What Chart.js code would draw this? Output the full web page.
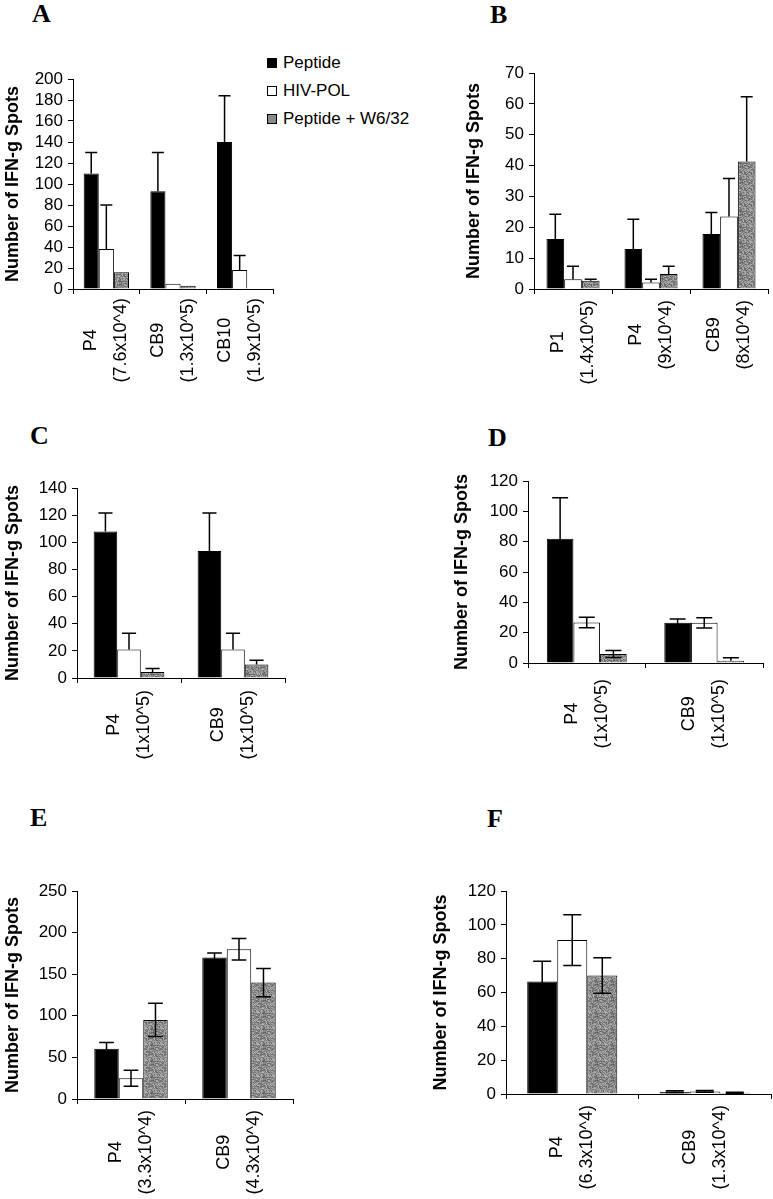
<!DOCTYPE html>
<html>
<head>
<meta charset="utf-8">
<script src="https://cdn.jsdelivr.net/npm/chart.js@4.4.1/dist/chart.umd.min.js"></script>
<style>
  html, body { margin: 0; padding: 0; background: #fff; }
  body { width: 773px; height: 1199px; position: relative; overflow: hidden;
         font-family: Arial, "Liberation Sans", sans-serif; color: #000; }
  canvas { position: absolute; }
  .tag { position: absolute; font: bold 26px "Liberation Serif", "Times New Roman", serif; line-height: 26px; }
  #legend { position: absolute; left: 267px; top: 49px; font-size: 17px; }
  #legend div { height: 28px; display: flex; align-items: center; white-space: nowrap; }
  #legend .sw { width: 10px; height: 10px; box-sizing: border-box; border: 1px solid #000; margin-right: 6px; }
</style>
</head>
<body>
<div class="tag" style="left:32px;top:1px">A</div>
<div class="tag" style="left:490px;top:2px">B</div>
<div class="tag" style="left:30px;top:423px">C</div>
<div class="tag" style="left:488px;top:425px">D</div>
<div class="tag" style="left:30px;top:805px">E</div>
<div class="tag" style="left:487px;top:806px">F</div>
<div id="legend"></div>

<canvas id="chartA"></canvas>
<canvas id="chartB"></canvas>
<canvas id="chartC"></canvas>
<canvas id="chartD"></canvas>
<canvas id="chartE"></canvas>
<canvas id="chartF"></canvas>

<script>
// series names
const seriesNames = ['Peptide', 'HIV-POL', 'Peptide + W6/32'];
const yTitle = 'Number of IFN-g Spots';

// panel A
const catsA = [['P4', '(7.6x10^4)'], ['CB9', '(1.3x10^5)'], ['CB10', '(1.9x10^5)']];
const peptideA = [110, 93, 140];
const hivA = [38, 5, 18];
const w6A = [16, 3, 0];
const peptideErrA = [20, 37, 44];
const hivErrA = [42, 0, 14];
const w6ErrA = [0, 0, 0];

// panel B
const catsB = [['P1', '(1.4x10^5)'], ['P4', '(9x10^4)'], ['CB9', '(8x10^4)']];
const peptideB = [16.2, 13, 17.8];
const hivB = [3.2, 2.1, 23.5];
const w6B = [2.7, 4.9, 41.3];
const peptideErrB = [8, 9.6, 7];
const hivErrB = [4.2, 1.1, 12.3];
const w6ErrB = [0.5, 2.5, 21];

// panel C
const catsC = [['P4', '(1x10^5)'], ['CB9', '(1x10^5)']];
const peptideC = [108, 93.5];
const hivC = [21, 21];
const w6C = [4.5, 10];
const peptideErrC = [13.5, 28];
const hivErrC = [12, 12];
const w6ErrC = [2.5, 3];

// panel D
const catsD = [['P4', '(1x10^5)'], ['CB9', '(1x10^5)']];
const peptideD = [82, 26.5];
const hivD = [26.7, 26.5];
const w6D = [6, 1.5];
const peptideErrD = [27, 2.5];
const hivErrD = [3.4, 3.4];
const w6ErrD = [2.3, 2];

// panel E
const catsE = [['P4', '(3.3x10^4)'], ['CB9', '(4.3x10^4)']];
const peptideE = [60.5, 170];
const hivE = [25, 180];
const w6E = [95, 140];
const peptideErrE = [7.5, 5.5];
const hivErrE = [9.6, 13];
const w6ErrE = [20, 17];

// panel F
const catsF = [['P4', '(6.3x10^4)'], ['CB9', '(1.3x10^4)']];
const peptideF = [66.5, 1.4];
const hivF = [91, 1.5];
const w6F = [70, 0.8];
const peptideErrF = [12, 0.5];
const hivErrF = [15, 0.5];
const w6ErrF = [10.5, 0.3];

// y axis ranges
const yMaxA = 200, yStepA = 20;
const yMaxB = 70, yStepB = 10;
const yMaxC = 140, yStepC = 20;
const yMaxD = 120, yStepD = 20;
const yMaxE = 250, yStepE = 50;
const yMaxF = 120, yStepF = 20;

const fontFamily = 'Arial, "Liberation Sans", sans-serif';
Chart.defaults.font.family = fontFamily;
Chart.defaults.color = '#000';

// grey speckle tile for the W6/32 bars (fixed hash, texture only)
const tile = document.createElement('canvas');
tile.width = 16; tile.height = 16;
(function () {
  const g = tile.getContext('2d');
  for (let py = 0; py < 16; py++) {
    for (let px = 0; px < 16; px++) {
      let h = (px * 374761393 + py * 668265263) | 0;
      h = Math.imul(h ^ (h >>> 13), 1274126177);
      const v = 95 + ((h >>> 0) % 90);
      g.fillStyle = 'rgb(' + v + ',' + v + ',' + v + ')';
      g.fillRect(px, py, 1, 1);
    }
  }
})();

// legend
const swatch = ['#000', '#fff', '#8a8a8a'];
const legend = document.getElementById('legend');
seriesNames.forEach((name, i) => {
  const row = document.createElement('div');
  const sw = document.createElement('span');
  sw.className = 'sw';
  sw.style.background = swatch[i];
  row.appendChild(sw);
  row.appendChild(document.createTextNode(name));
  legend.appendChild(row);
});

/* error bars: plus only, or both ways */
const errorBars = {
  id: 'errorBars',
  afterDatasetsDraw(chart, args, opts) {
    const y = chart.scales.y, ctx = chart.ctx;
    ctx.save();
    ctx.strokeStyle = '#000';
    ctx.lineWidth = 1.5;
    chart.data.datasets.forEach((ds, d) => {
      chart.getDatasetMeta(d).data.forEach((bar, i) => {
        const err = ds.errors[i];
        if (!err) return;
        const v = ds.data[i];
        const cap = Math.max(12, bar.width * 0.6) / 2;
        const yHi = y.getPixelForValue(v + err);
        ctx.beginPath();
        ctx.moveTo(bar.x, bar.y); ctx.lineTo(bar.x, yHi);
        ctx.moveTo(bar.x - cap, yHi); ctx.lineTo(bar.x + cap, yHi);
        if (opts.both && v - err > 0) {
          const yLo = y.getPixelForValue(v - err);
          ctx.moveTo(bar.x, bar.y); ctx.lineTo(bar.x, yLo);
          ctx.moveTo(bar.x - cap, yLo); ctx.lineTo(bar.x + cap, yLo);
        }
        ctx.stroke();
      });
    });
    ctx.restore();
  }
};

/* rotated two-line category labels, lines centred on each other */
const catLabels = {
  id: 'catLabels',
  afterDraw(chart, args, opts) {
    const x = chart.scales.x, ctx = chart.ctx;
    ctx.save();
    ctx.fillStyle = '#000';
    ctx.font = '18px ' + fontFamily;
    ctx.textAlign = 'center';
    ctx.textBaseline = 'middle';
    chart.data.labels.forEach((lines, i) => {
      const cx = x.getPixelForValue(i);
      const w = Math.max(...lines.map(s => ctx.measureText(s).width));
      const cy = x.top + opts.gap + w / 2;
      lines.forEach((s, k) => {
        ctx.save();
        ctx.translate(cx + (k - (lines.length - 1) / 2) * 30, cy);
        ctx.rotate(-Math.PI / 2);
        ctx.fillText(s, 0, 0);
        ctx.restore();
      });
    });
    ctx.restore();
  }
};

function drawPanel(id, box, cats, values, errors, yMax, yStep) {
  const canvas = document.getElementById(id);
  canvas.width = box.width;
  canvas.height = box.height;
  canvas.style.left = box.left + 'px';
  canvas.style.top = box.top + 'px';
  const grey = canvas.getContext('2d').createPattern(tile, 'repeat');
  const fills = ['#000', '#fff', grey];

  new Chart(canvas, {
    type: 'bar',
    data: {
      labels: cats,
      datasets: seriesNames.map((name, i) => ({
        label: name,
        data: values[i],
        errors: errors[i],
        backgroundColor: fills[i],
        borderColor: '#000',
        borderWidth: 1,
        categoryPercentage: 0.68,
        barPercentage: 1.0
      }))
    },
    options: {
      responsive: false,
      animation: false,
      devicePixelRatio: 1,
      layout: { padding: { top: 20, left: 0, bottom: 0, right: box.left + box.width - box.axisRight } },
      plugins: {
        legend: { display: false },
        tooltip: { enabled: false },
        errorBars: { both: box.both },
        catLabels: { gap: box.gap }
      },
      scales: {
        x: {
          offset: true,
          grid: { drawOnChartArea: false, offset: true, tickLength: 5, color: '#000' },
          border: { color: '#000', width: 1 },
          ticks: { display: false },
          afterFit: s => { s.height = box.top + box.height - box.axisY; }
        },
        y: {
          min: 0,
          max: yMax,
          ticks: { stepSize: yStep, autoSkip: false, color: '#000', padding: 5, font: { size: 17 } },
          grid: { drawOnChartArea: false, tickLength: 5, color: '#000' },
          border: { color: '#000', width: 1 },
          title: { display: true, text: yTitle, color: '#000', padding: 0,
                   font: { size: 18, weight: 'bold' } },
          afterFit: s => { s.width = box.axisX - box.left; }
        }
      }
    },
    plugins: [errorBars, catLabels]
  });
}

drawPanel('chartA', { left: 2, top: 59, width: 277, height: 330, axisX: 73, axisRight: 273, axisY: 289, gap: 9, both: false },
  catsA, [peptideA, hivA, w6A], [peptideErrA, hivErrA, w6ErrA], yMaxA, yStepA);
drawPanel('chartB', { left: 463, top: 53, width: 310, height: 336, axisX: 534, axisRight: 768, axisY: 289, gap: 11, both: false },
  catsB, [peptideB, hivB, w6B], [peptideErrB, hivErrB, w6ErrB], yMaxB, yStepB);
drawPanel('chartC', { left: 2, top: 468, width: 289, height: 310, axisX: 77, axisRight: 285, axisY: 678, gap: 12, both: false },
  catsC, [peptideC, hivC, w6C], [peptideErrC, hivErrC, w6ErrC], yMaxC, yStepC);
drawPanel('chartD', { left: 451, top: 461, width: 318, height: 302, axisX: 528, axisRight: 763, axisY: 663, gap: 16, both: true },
  catsD, [peptideD, hivD, w6D], [peptideErrD, hivErrD, w6ErrD], yMaxD, yStepD);
drawPanel('chartE', { left: 2, top: 871, width: 297, height: 328, axisX: 77, axisRight: 293, axisY: 1099, gap: 11, both: true },
  catsE, [peptideE, hivE, w6E], [peptideErrE, hivErrE, w6ErrE], yMaxE, yStepE);
drawPanel('chartF', { left: 430, top: 871, width: 343, height: 328, axisX: 506, axisRight: 771, axisY: 1094, gap: 11, both: true },
  catsF, [peptideF, hivF, w6F], [peptideErrF, hivErrF, w6ErrF], yMaxF, yStepF);
</script>
</body>
</html>
